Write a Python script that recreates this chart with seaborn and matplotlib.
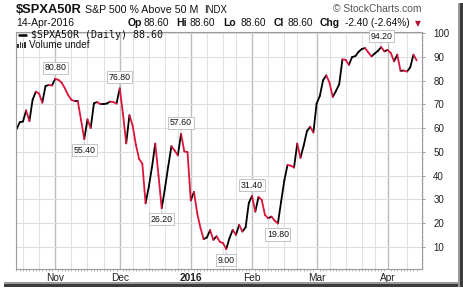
import numpy as np
import pandas as pd
import matplotlib
matplotlib.use("Agg")
import matplotlib.pyplot as plt
import seaborn as sns
from matplotlib.lines import Line2D
from matplotlib.patches import Rectangle

# ---------------- data ----------------
values = [59.5, 62.5, 62.8, 67.5, 63.0, 72.0, 75.4, 74.6, 70.8, 77.8,
          78.2, 78.0, 80.8, 80.4, 79.2, 76.8, 74.0, 72.0, 71.4, 71.4,
          63.5, 55.4, 63.7, 60.1, 70.5, 71.0, 70.2, 70.2, 70.4, 71.2,
          71.0, 70.4, 76.8, 66.0, 53.6, 65.5, 61.0, 53.0, 47.0, 45.0,
          28.3, 35.3, 43.7, 53.5, 40.2, 26.2, 34.6, 43.7, 52.4, 50.6,
          48.5, 57.6, 50.2, 49.9, 29.5, 33.1, 24.1, 18.0, 13.2, 13.9,
          17.0, 12.9, 14.4, 12.1, 11.5, 9.0, 13.6, 17.1, 15.0, 19.2,
          16.4, 18.2, 28.5, 31.4, 24.8, 31.0, 29.7, 23.4, 22.0, 22.7,
          21.0, 19.8, 29.0, 38.0, 44.5, 44.2, 43.4, 53.5, 47.5, 52.7,
          58.7, 60.6, 58.2, 70.4, 73.6, 80.2, 82.3, 79.2, 73.2, 75.7,
          78.5, 89.0, 88.8, 86.7, 90.0, 90.4, 92.2, 93.4, 93.8, 92.0,
          90.3, 91.5, 92.6, 94.2, 92.4, 93.0, 91.7, 88.2, 91.0, 84.2,
          84.3, 83.9, 85.6, 91.0, 88.6]
holidays = ["2015-11-26", "2015-12-25", "2016-01-01", "2016-01-18",
            "2016-02-15", "2016-03-25"]
month_starts = ["2015-11-01", "2015-12-01", "2016-01-01", "2016-02-01",
                "2016-03-01", "2016-04-01"]
month_labels = ["Nov", "Dec", "2016", "Feb", "Mar", "Apr"]
yticks = [10, 20, 30, 40, 50, 60, 70, 80, 90, 100]
ann_idx = [12, 21, 32, 45, 51, 65, 73, 81, 113]
ann_text = ["80.80", "55.40", "76.80", "26.20", "57.60", "9.00", "31.40", "19.80", "94.20"]
ann_pos = ["above", "below", "above", "below", "above", "below", "above", "below", "above"]

dates = pd.bdate_range("2015-10-15", "2016-04-14", freq="C", holidays=holidays)
n = len(values)
idx = np.arange(n)

# segments: black when rising, red when falling
rows = []
for i in range(1, n):
    d = "up" if values[i] >= values[i - 1] else "down"
    rows.append((i, idx[i - 1], values[i - 1], d))
    rows.append((i, idx[i], values[i], d))
seg = pd.DataFrame(rows, columns=["seg", "x", "v", "dir"])

RED = "#dc143c"
W, H = 464, 288

sns.set_theme(style="white")
plt.rcParams["font.family"] = ["Liberation Sans", "DejaVu Sans"]

fig = plt.figure(figsize=(W / 100, H / 100), dpi=100)
fig.patch.set_facecolor("white")

def fx(x):
    return x / W

def fy(y):
    return 1 - y / H

L, R, T, B = 16, 422.3, 31.7, 269
ax = fig.add_axes([fx(L), fy(B), (R - L) / W, (B - T) / H])
ax.set_facecolor("white")

# grid
month_idx = [int(dates.searchsorted(pd.Timestamp(s))) for s in month_starts]
week_idx = [i for i in range(1, n)
            if dates[i].dayofweek < dates[i - 1].dayofweek
            and min(abs(i - m) for m in month_idx) > 2]
for w in week_idx:
    ax.axvline(w, color="#e2e2e2", lw=0.8, zorder=0)
for m in month_idx:
    ax.axvline(m, color="#bdbdbd", lw=1.0, zorder=0)
for yv in yticks:
    ax.axhline(yv, color="#dedede", lw=0.8, zorder=0)

sns.lineplot(data=seg, x="x", y="v", hue="dir", units="seg", estimator=None,
             palette={"up": "black", "down": RED}, legend=False, lw=1.3,
             sort=False, ax=ax, solid_capstyle="round")

ax.set_xlim(-0.15, 125.75)
ax.set_ylim(0.6, 100.7)
ax.set_xlabel("")
ax.set_ylabel("")

ax.set_xticks(month_idx)
ax.set_xticklabels(month_labels)
for lbl in ax.get_xticklabels():
    if lbl.get_text() == "2016":
        lbl.set_fontweight("bold")
ax.set_xticks(idx, minor=True)
ax.tick_params(axis="x", which="major", length=0, pad=3.0, labelsize=7.3, colors="#222222")
ax.tick_params(axis="x", which="minor", length=1.2, width=0.6, color="#aaaaaa", bottom=True)

ax.yaxis.tick_right()
ax.set_yticks(yticks)
ax.set_yticks(np.arange(1, 101, 1), minor=True)
ax.tick_params(axis="y", which="major", right=True, left=False, length=2.4, width=0.7,
               color="#999999", pad=5.5, labelsize=7.0, labelcolor="#222222")
ax.tick_params(axis="y", which="minor", right=True, left=False, length=1.0, width=0.5,
               color="#aaaaaa")
for s in ax.spines.values():
    s.set_color("#9a9a9a")
    s.set_linewidth(0.8)

# value labels
for i, t, p in zip(ann_idx, ann_text, ann_pos):
    off = 7.9 if p == "above" else -7.9
    ax.annotate(t, xy=(idx[i], values[i]), xytext=(0, off), textcoords="offset points",
                ha="center", va="center", fontsize=6.3, color="#111111",
                bbox=dict(boxstyle="square,pad=0.18", fc="white", ec="#c4c4c4", lw=0.7),
                arrowprops=dict(arrowstyle="-", color="#c4c4c4", lw=0.7,
                                shrinkA=0, shrinkB=1.5),
                zorder=5)

# header
fig.text(fx(16), fy(12.7), "$SPXA50R", fontsize=9.3, fontweight="bold", va="baseline", color="#111111")
fig.text(fx(85), fy(12.7), "S&P 500 % Above 50 M", fontsize=7.7, va="baseline", color="#111111")
fig.text(fx(204), fy(12.7), "INDX", fontsize=6.9, va="baseline", color="#111111")
fig.text(fx(422), fy(11.7), "\u00a9 StockCharts.com", fontsize=7.4, va="baseline", ha="right", color="#555555")

fig.text(fx(16), fy(26.5), "14-Apr-2016", fontsize=7.5, va="baseline", color="#111111")
pieces = [(127.7, "Op", True), (143.3, "88.60", False), (176.7, "Hi", True), (190, "88.60", False),
          (223.3, "Lo", True), (240.7, "88.60", False), (274, "Cl", True), (287.3, "88.60", False),
          (320, "Chg", True), (345, "-2.40 (-2.64%)", False)]
for x, t, b in pieces:
    fig.text(fx(x), fy(26.5), t, fontsize=7.5 if b else 7.3,
             fontweight="bold" if b else "normal", va="baseline", color="#111111")
fig.text(fx(418), fy(24.0), "\u25bc", fontsize=5.5, ha="center", va="center",
         color="#b0102e", family="DejaVu Sans")

# in-plot legend
fig.add_artist(Line2D([fx(19.5), fx(26)], [fy(34.5), fy(34.5)], color="black", lw=1.8))
fig.text(fx(31.5), fy(38.5), "$SPXA50R (Daily) 88.60", fontsize=7.2, va="baseline",
         family="DejaVu Sans Mono", color="#111111")
for bx, bh in zip([17.5, 19.8, 22.1, 24.4], [4.0, 6.0, 5.0, 6.5]):
    fig.add_artist(Rectangle((fx(bx), fy(48.3)), 1.4 / W, bh / H, color="#333333", lw=0))
fig.text(fx(29.3), fy(48.3), "Volume undef", fontsize=7.1, va="baseline", color="#111111")

# drop shadow frame
fig.add_artist(Rectangle((fx(4), fy(286.5)), (463 - 4) / W, 4.5 / H, color="#9a9a9a", lw=0))
fig.add_artist(Rectangle((fx(4), fy(286.5)), (463 - 4) / W, 2.2 / H, color="#3c3c3c", lw=0))
fig.add_artist(Rectangle((fx(458.5), fy(286.5)), 4.5 / W, (286.5 - 3) / H, color="#9a9a9a", lw=0))
fig.add_artist(Rectangle((fx(460.5), fy(286.5)), 2.2 / W, (286.5 - 3) / H, color="#3c3c3c", lw=0))

fig.savefig("out.png", dpi=100, facecolor="white")
